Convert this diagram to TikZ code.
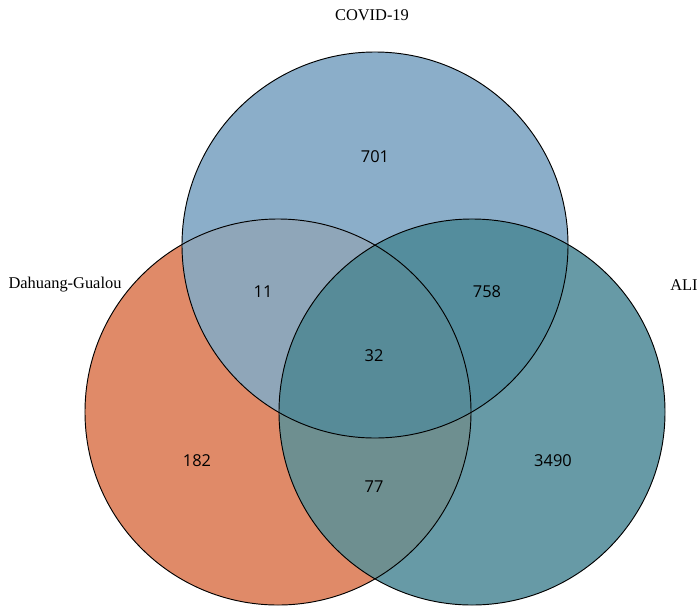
\documentclass[tikz,border=0pt]{standalone}
\usepackage{fontspec}
\setmainfont{Liberation Serif}
\newfontfamily\numfont{Open Sans}
\usetikzlibrary{positioning}

\definecolor{covidblue}{HTML}{8BAEC9}
\definecolor{dhgorange}{HTML}{E08A68}
\definecolor{aliteal}{HTML}{679AA6}
\definecolor{covdhg}{HTML}{8FA6B9}
\definecolor{covali}{HTML}{548D9D}
\definecolor{dhgali}{HTML}{6E8F90}
\definecolor{allthree}{HTML}{578B98}

\begin{document}
\begin{tikzpicture}[
			x=0.03cm, y=-0.03cm,
			every node/.style={font=\fontsize{14}{16}\selectfont},
			setname/.style={inner sep=0pt},
			count/.style={inner sep=0pt, font=\fontsize{14}{16}\selectfont\numfont},
			outline/.style={draw=black, line width=0.8pt}
			]
			\useasboundingbox (0,0) rectangle (700,614);
			
			% Centres
			\coordinate (covid) at (375,245);
			\coordinate (dhg) at (278,412);
			\coordinate (ali) at (472,412);
			\def\rad{5.79cm}
			
			% Fills
			\fill[covidblue] (covid) circle [radius=\rad];
			\fill[dhgorange] (dhg) circle [radius=\rad];
			\fill[aliteal] (ali) circle [radius=\rad];
			\begin{scope}
				\clip (covid) circle [radius=\rad];
				\fill[covdhg] (dhg) circle [radius=\rad];
				\fill[covali] (ali) circle [radius=\rad];
			\end{scope}
			\begin{scope}
				\clip (dhg) circle [radius=\rad];
				\fill[dhgali] (ali) circle [radius=\rad];
				\clip (covid) circle [radius=\rad];
				\fill[allthree] (ali) circle [radius=\rad];
			\end{scope}
			
			% Circles
			\draw[outline] (covid) circle [radius=\rad];
			\draw[outline] (dhg) circle [radius=\rad];
			\draw[outline] (ali) circle [radius=\rad];
			
			% Set names
			\node (covidname) [setname] at (372,15) {COVID-19};
			\node (dhgname) [setname] at (65,285) {Dahuang-Gualou};
			\node (aliname) [setname] at (684,285) {ALI};
			
			% Counts
			\node (n701) [count] at (375,157) {701};
			\node (n11) [count] at (263,292) {11};
			\node (n758) [count] at (487,292) {758};
			\node (n32) [count] at (374,356) {32};
			\node (n182) [count] at (197,461) {182};
			\node (n3490) [count] at (553,461) {3490};
			\node (n77) [count] at (374,487) {77};
			
		\end{tikzpicture}
\end{document}
